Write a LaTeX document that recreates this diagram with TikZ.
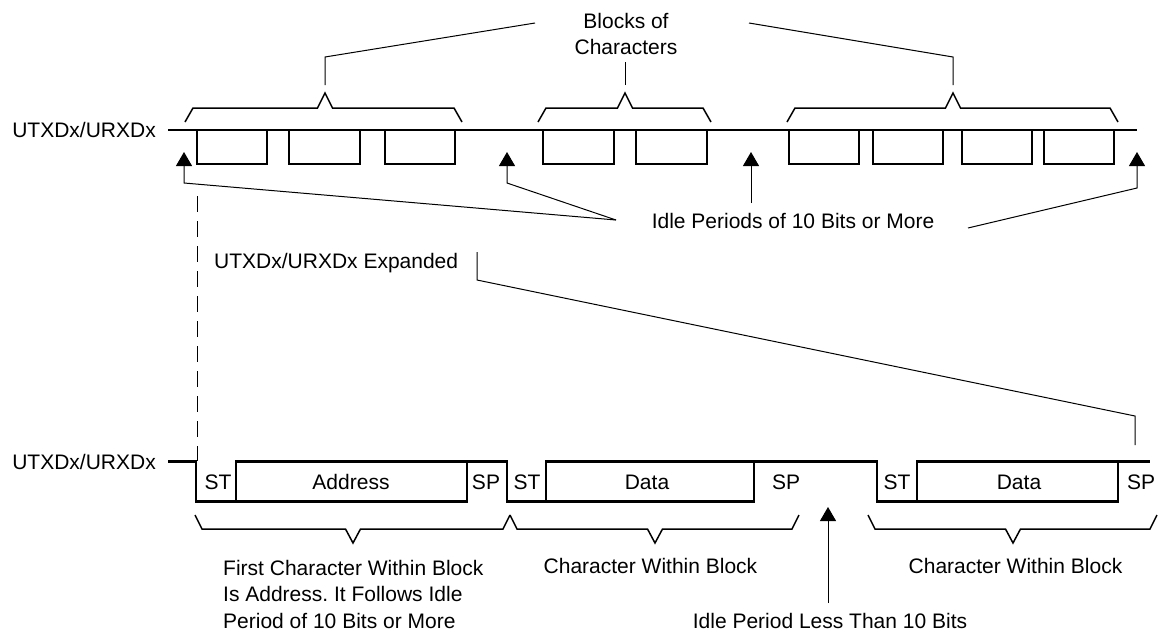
\documentclass[tikz,border=0pt]{standalone}
\usepackage{fontspec}
\setmainfont{Liberation Sans}
\usetikzlibrary{arrows.meta}
\frenchspacing
\begin{document}
\begin{tikzpicture}[x=1pt,y=-1pt,
  sig/.style={line width=2.2pt, line join=miter},
  brc/.style={line width=1.5pt, line join=miter},
  conn/.style={line width=1pt},
  uparrow/.style={conn, -{Triangle[width=16pt,length=14pt]}},
  lbl/.style={font=\fontsize{21}{26.7}\selectfont, inner sep=0pt, anchor=base},
]
\useasboundingbox (0,0) rectangle (1162,633);
\newcommand{\bracetop}[3]{\draw[brc] (#1,122) -- ({#1+8},108) -- ({#3-7.5},108) -- (#3,93) -- ({#3+7.5},108) -- ({#2-8},108) -- (#2,122);}
\newcommand{\bracebot}[3]{\draw[brc] (#1,515) -- ({#1+7},529) -- ({#3-7.5},529) -- (#3,543) -- ({#3+7.5},529) -- ({#2-7},529) -- (#2,515);}

% ---------- top signal ----------
\node[lbl, anchor=base east] (lblA) at (156,137.5) {UTXDx/URXDx};
\draw[sig] (168,130) -- (1137,130);
\foreach \a/\b in {197/267,289/360,385/455,543/614,636/707,789/859,873/943,962/1032,1044/1114}
  \draw[sig] (\a,130) rectangle (\b,164);

% braces above
\bracetop{185}{462}{325}
\bracetop{538}{711}{625}
\bracetop{787}{1118}{953}

\node[lbl, align=center, anchor=center] (blk) at (626,34) {Blocks of\\Characters};
\coordinate (bl1) at (325,85); \coordinate (bl2) at (325,57); \coordinate (bl3) at (535,23);
\coordinate (bm1) at (625,85); \coordinate (bm2) at (625,62);
\coordinate (br1) at (953,85); \coordinate (br2) at (953,57); \coordinate (br3) at (749,23);
\draw[conn] (bl1) -- (bl2) -- (bl3);
\draw[conn] (bm1) -- (bm2);
\draw[conn] (br1) -- (br2) -- (br3);

% idle arrows
\node[lbl] (idle) at (793,228.5) {Idle Periods of 10 Bits or More};
\coordinate (iL) at (616,220);
\coordinate (iR) at (968,228);
\coordinate (a1b) at (184,183); \coordinate (a1t) at (184,152);
\coordinate (a2b) at (507,183); \coordinate (a2t) at (507,152);
\coordinate (a3b) at (751,203); \coordinate (a3t) at (751,152);
\coordinate (a4b) at (1137,188); \coordinate (a4t) at (1137,152);
\draw[uparrow] (iL) -- (a1b) -- (a1t);
\draw[uparrow] (iL) -- (a2b) -- (a2t);
\draw[uparrow] (a3b) -- (a3t);
\draw[uparrow] (iR) -- (a4b) -- (a4t);

% dashed
\coordinate (d1) at (197,196); \coordinate (d2) at (197,461);
\draw[conn, dash pattern=on 16pt off 9pt] (d1) -- (d2);

% expanded label
\node[lbl, anchor=base west] (exp) at (214,268.3) {UTXDx/URXDx Expanded};
\coordinate (e1) at (477,252); \coordinate (e2) at (477,280);
\coordinate (e3) at (1135,416); \coordinate (e4) at (1135,445);
\draw[conn] (e1) -- (e2) -- (e3) -- (e4);

% ---------- bottom signal ----------
\node[lbl, anchor=base east] (lblB) at (156,469.5) {UTXDx/URXDx};
\draw[sig] (168,461.5) -- (196,461.5) -- (196,501.5) -- (236,501.5);
\draw[sig] (236,461.5) rectangle (467,501.5);
\draw[sig] (467,461.5) -- (507,461.5) -- (507,501.5) -- (546,501.5);
\draw[sig] (546,461.5) rectangle (754,501.5);
\draw[sig] (754,461.5) -- (877,461.5) -- (877,501.5) -- (917,501.5);
\draw[sig] (917,461.5) rectangle (1118,501.5);
\draw[sig] (1118,461.5) -- (1150,461.5);

\node[lbl] (st1) at (218,489.5) {ST};
\node[lbl] (ad) at (351,489.5) {Address};
\node[lbl] (sp1) at (486,489.5) {SP};
\node[lbl] (st2) at (527,489.5) {ST};
\node[lbl] (d1t) at (647,489.5) {Data};
\node[lbl] (sp2) at (786,489.5) {SP};
\node[lbl] (st3) at (897,489.5) {ST};
\node[lbl] (d2t) at (1019,489.5) {Data};
\node[lbl] (sp3) at (1141,489.5) {SP};

% braces below
\bracebot{195}{510}{353}
\bracebot{510}{799}{655}
\bracebot{868}{1157}{1013}

\node[lbl, anchor=base west, align=left] (first) at (223,628.5) {First Character Within Block\\Is Address. It Follows Idle\\Period of 10 Bits or More};
\node[lbl] (cwb1) at (650.5,573.5) {Character Within Block};
\node[lbl] (cwb2) at (1015.5,573.5) {Character Within Block};

\node[lbl] (less) at (830,628.5) {Idle Period Less Than 10 Bits};
\coordinate (l1) at (828,603); \coordinate (l2) at (828,507);
\draw[uparrow] (l1) -- (l2);
\end{tikzpicture}
\end{document}
